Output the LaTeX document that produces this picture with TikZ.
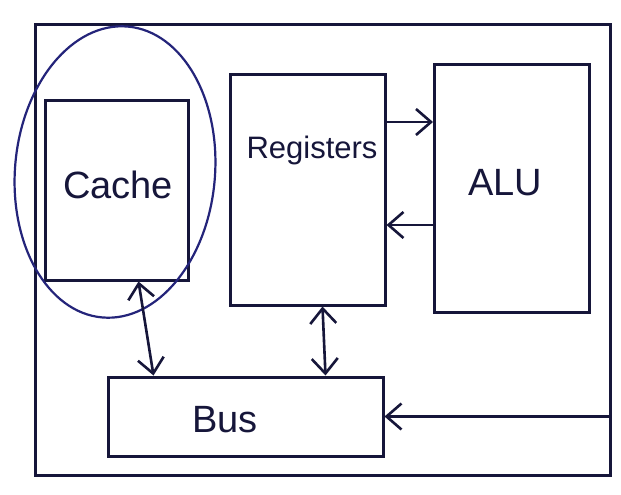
\documentclass[tikz,border=0pt]{standalone}
\usepackage{fontspec}
\setmainfont{Liberation Sans}
\usetikzlibrary{arrows.meta,shapes.geometric,calc}
\definecolor{ink}{HTML}{16163A}
\definecolor{blueink}{HTML}{24247A}
\begin{document}
\begin{tikzpicture}[x=1pt,y=-1pt,
  box/.style={draw=ink, line width=3pt, rectangle, inner sep=0pt},
  tip/.tip={Straight Barb[length=15pt,width=26pt]},
  arr/.style={draw=ink, line width=2.6pt, -tip},
  darr/.style={draw=ink, line width=2.6pt, tip-tip},
  lbl/.style={text=ink, inner sep=0pt, font=\fontsize{38}{42}\selectfont}]
\useasboundingbox (0,0) rectangle (621,495);
\fill[white] (0,0) rectangle (621,495);
% outer frame
\node[box, minimum width=575pt, minimum height=450pt] (frame) at (322.5,250) {};
% boxes
\node[box, minimum width=143pt, minimum height=180pt] (cache) at (116.5,190) {};
\node[box, minimum width=155pt, minimum height=230pt] (registers) at (307.5,190) {};
\node[box, minimum width=155pt, minimum height=247pt] (alu) at (512,188.5) {};
\node[box, minimum width=275pt, minimum height=79pt] (bus) at (245.5,416.5) {};
% ring round the cache
\node[draw=blueink, ellipse, line width=2.2pt, inner sep=0pt, minimum width=200pt, minimum height=292pt, rotate=-5] (ring) at (115,172) {};
% labels
\node[lbl] (cachetext) at (118,185) {Cache};
\node[lbl, font=\fontsize{31}{35}\selectfont] (regtext) at (312,150) {Registers};
\node[lbl] (alutext) at (505,183) {ALU};
\node[lbl] (bustext) at (225,420) {Bus};
% connectors
\coordinate (r1) at ([yshift=68pt]registers.east);
\coordinate (r2) at ([yshift=-35pt]registers.east);
\draw[darr] ([xshift=22pt]cache.south) -- ([xshift=-92pt]bus.north);
\draw[darr] ([xshift=15pt]registers.south) -- ([xshift=80pt]bus.north);
\draw[arr] (r1) -- (r1 -| alu.west);
\draw[arr] (r2 -| alu.west) -- (r2);
\draw[arr] (bus.east -| frame.east) -- (bus.east);
\end{tikzpicture}
\end{document}
